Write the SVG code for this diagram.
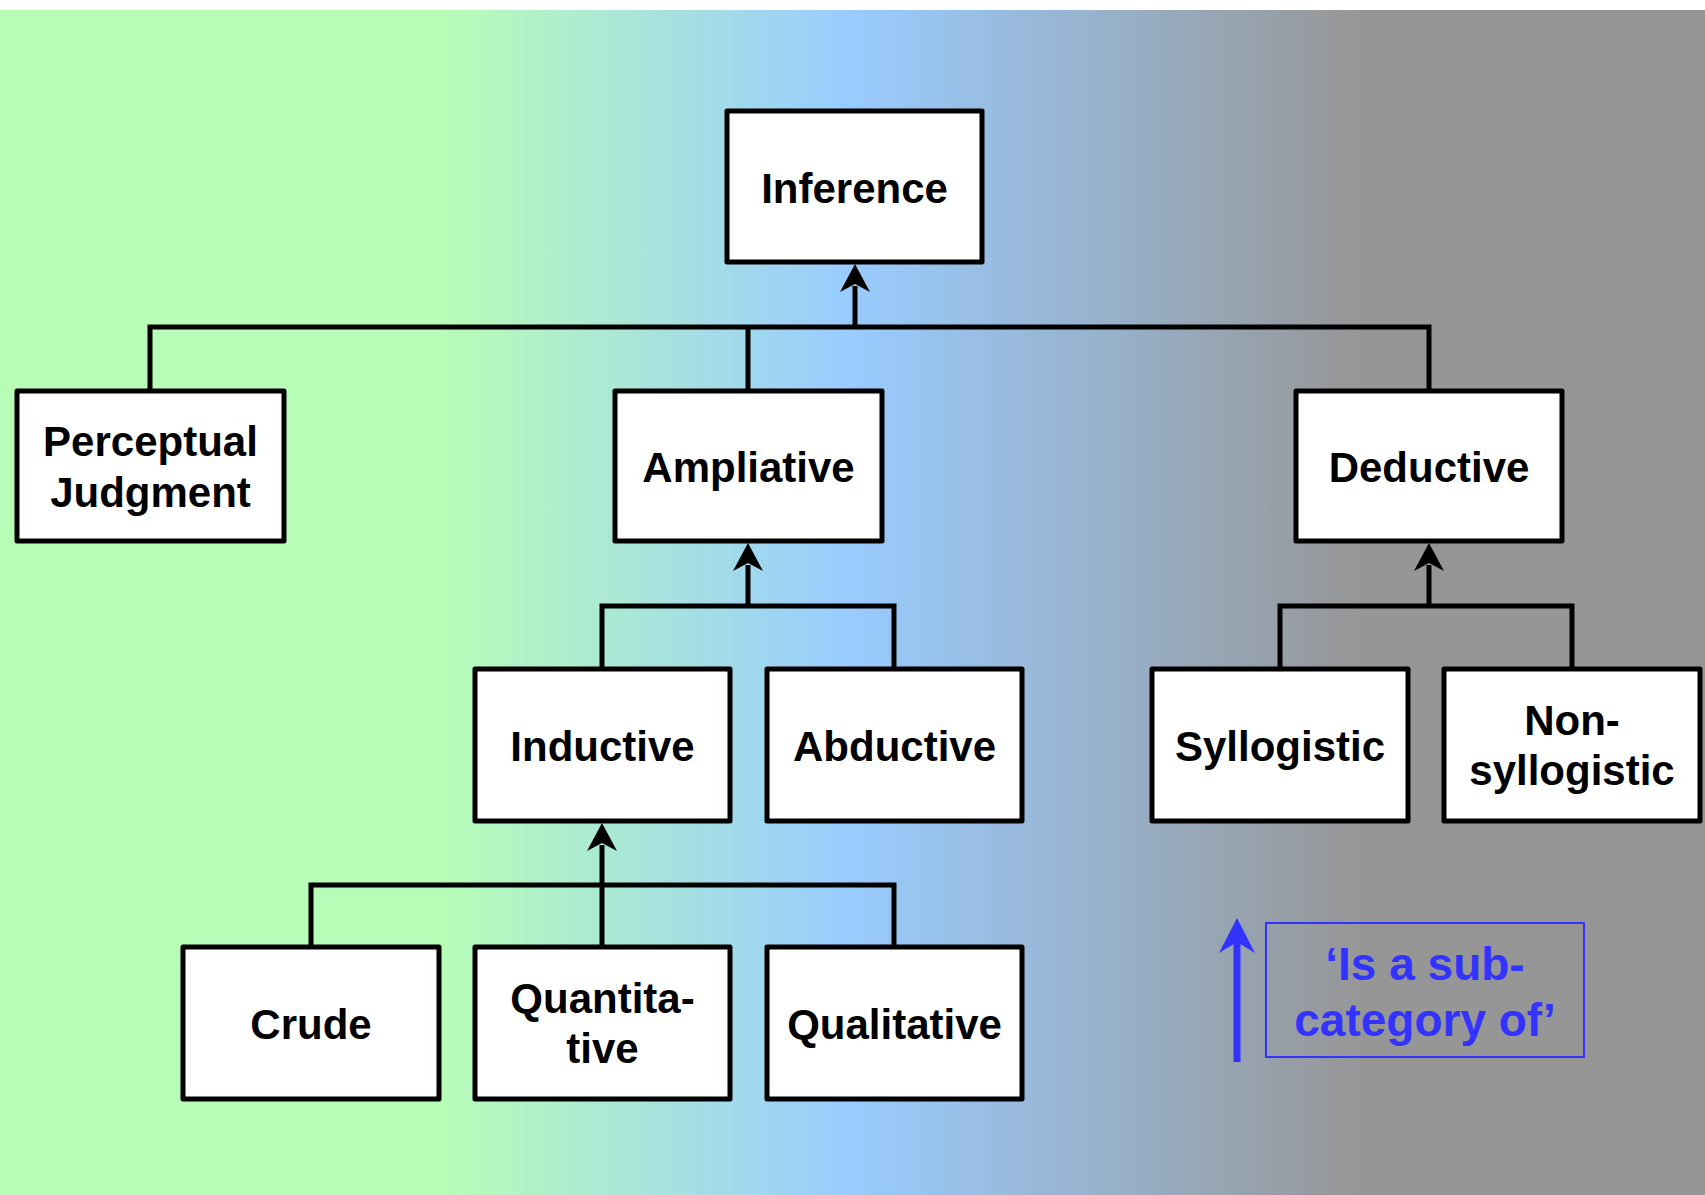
<svg xmlns="http://www.w3.org/2000/svg" width="1705" height="1195" viewBox="0 0 1705 1195">
  <defs>
    <linearGradient id="bg" x1="0" y1="0" x2="1705" y2="0" gradientUnits="userSpaceOnUse">
      <stop offset="0" stop-color="#b7fdb7"/>
      <stop offset="0.26" stop-color="#b7fdb7"/>
      <stop offset="0.497" stop-color="#99ccff"/>
      <stop offset="0.80" stop-color="#969696"/>
      <stop offset="1" stop-color="#969696"/>
    </linearGradient>
    <marker id="arr" markerUnits="userSpaceOnUse" markerWidth="40" markerHeight="40" viewBox="-20 -2 40 40" refX="0" refY="0" orient="auto-start-reverse" overflow="visible">
      <path d="M0,0 L15,28 L0,20 L-15,28 Z" fill="#000"/>
    </marker>
    <style>
      .box { fill: #ffffff; stroke: #000000; stroke-width: 5; stroke-linejoin: round; }
      .lbl { font-family: "Liberation Sans", Arial, sans-serif; font-weight: bold; font-size: 42px; fill: #000; text-anchor: middle; }
      .con { fill: none; stroke: #000; stroke-width: 5; stroke-linejoin: miter; }
      .leg { font-family: "Liberation Sans", Arial, sans-serif; font-weight: bold; font-size: 46px; fill: #3333ff; text-anchor: middle; }
    </style>
  </defs>

  <rect x="0" y="0" width="1705" height="1195" fill="#ffffff"/>
  <rect x="0" y="10" width="1705" height="1185" fill="url(#bg)"/>

  <g id="connectors">
    <!-- level 1 -->
    <polyline class="con" points="150,391 150,327 1429,327 1429,391"/>
    <line class="con" x1="748" y1="327" x2="748" y2="391"/>
    <line class="con" x1="855" y1="327" x2="855" y2="286"/>
    <path d="M855,264 L870,292 L855,284 L840,292 Z" fill="#000"/>
    <!-- ampliative children -->
    <polyline class="con" points="602,669 602,606 894,606 894,669"/>
    <line class="con" x1="748" y1="606" x2="748" y2="565"/>
    <path d="M748,543 L763,571 L748,563 L733,571 Z" fill="#000"/>
    <!-- deductive children -->
    <polyline class="con" points="1280,669 1280,606 1572,606 1572,669"/>
    <line class="con" x1="1429" y1="606" x2="1429" y2="565"/>
    <path d="M1429,543 L1444,571 L1429,563 L1414,571 Z" fill="#000"/>
    <!-- inductive children -->
    <polyline class="con" points="311,947 311,885 894,885 894,947"/>
    <line class="con" x1="602" y1="947" x2="602" y2="845"/>
    <path d="M602,823 L617,851 L602,843 L587,851 Z" fill="#000"/>
  </g>

  <g id="n-inference">
    <rect class="box" x="727" y="111" width="255" height="151"/>
    <text class="lbl" x="854.5" y="203">Inference</text>
  </g>
  <g id="n-perceptual">
    <rect class="box" x="17" y="391" width="267" height="150"/>
    <text class="lbl" x="150.5" y="456">Perceptual</text>
    <text class="lbl" x="150.5" y="507">Judgment</text>
  </g>
  <g id="n-ampliative">
    <rect class="box" x="615" y="391" width="267" height="150"/>
    <text class="lbl" x="748.5" y="482">Ampliative</text>
  </g>
  <g id="n-deductive">
    <rect class="box" x="1296" y="391" width="266" height="150"/>
    <text class="lbl" x="1429" y="482">Deductive</text>
  </g>
  <g id="n-inductive">
    <rect class="box" x="475" y="669" width="255" height="152"/>
    <text class="lbl" x="602.5" y="761">Inductive</text>
  </g>
  <g id="n-abductive">
    <rect class="box" x="767" y="669" width="255" height="152"/>
    <text class="lbl" x="894.5" y="761">Abductive</text>
  </g>
  <g id="n-syllogistic">
    <rect class="box" x="1152" y="669" width="256" height="152"/>
    <text class="lbl" x="1280" y="761">Syllogistic</text>
  </g>
  <g id="n-nonsyllogistic">
    <rect class="box" x="1444" y="669" width="256" height="152"/>
    <text class="lbl" x="1572" y="735">Non-</text>
    <text class="lbl" x="1572" y="785">syllogistic</text>
  </g>
  <g id="n-crude">
    <rect class="box" x="183" y="947" width="256" height="152"/>
    <text class="lbl" x="311" y="1039">Crude</text>
  </g>
  <g id="n-quantitative">
    <rect class="box" x="475" y="947" width="255" height="152"/>
    <text class="lbl" x="602.5" y="1013">Quantita-</text>
    <text class="lbl" x="602.5" y="1063">tive</text>
  </g>
  <g id="n-qualitative">
    <rect class="box" x="767" y="947" width="255" height="152"/>
    <text class="lbl" x="894.5" y="1039">Qualitative</text>
  </g>

  <g id="legend">
    <line x1="1237" y1="1062" x2="1237" y2="940" stroke="#3333ff" stroke-width="7"/>
    <path d="M1237,918 L1255,953 L1237,942 L1219,953 Z" fill="#3333ff"/>
    <rect x="1266" y="923" width="318" height="134" fill="none" stroke="#3333ff" stroke-width="2"/>
    <text class="leg" x="1425" y="980">‘Is a sub-</text>
    <text class="leg" x="1425" y="1036">category of’</text>
  </g>
</svg>
